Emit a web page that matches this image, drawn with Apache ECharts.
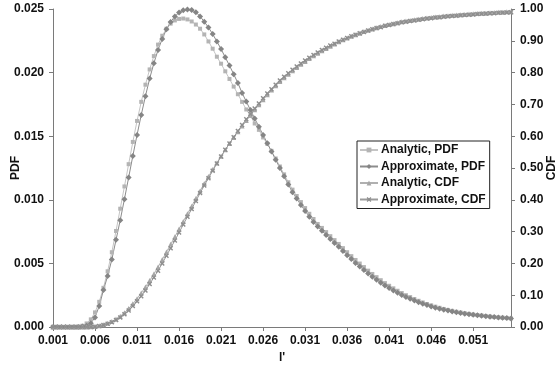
<!DOCTYPE html>
<html>
<head>
<meta charset="utf-8">
<script src="https://cdn.jsdelivr.net/npm/echarts@6/dist/echarts.min.js"></script>
<style>
  html, body { margin: 0; padding: 0; background: #fff; }
  #chart { width: 558px; height: 374px; }
</style>
</head>
<body>
<div id="chart"></div>
<script>
// l' values, one point every 0.0005
const lValues = [
  0.0010, 0.0015, 0.0020, 0.0025, 0.0030, 0.0035, 0.0040, 0.0045, 0.0050, 0.0055,
  0.0060, 0.0065, 0.0070, 0.0075, 0.0080, 0.0085, 0.0090, 0.0095, 0.0100, 0.0105,
  0.0110, 0.0115, 0.0120, 0.0125, 0.0130, 0.0135, 0.0140, 0.0145, 0.0150, 0.0155,
  0.0160, 0.0165, 0.0170, 0.0175, 0.0180, 0.0185, 0.0190, 0.0195, 0.0200, 0.0205,
  0.0210, 0.0215, 0.0220, 0.0225, 0.0230, 0.0235, 0.0240, 0.0245, 0.0250, 0.0255,
  0.0260, 0.0265, 0.0270, 0.0275, 0.0280, 0.0285, 0.0290, 0.0295, 0.0300, 0.0305,
  0.0310, 0.0315, 0.0320, 0.0325, 0.0330, 0.0335, 0.0340, 0.0345, 0.0350, 0.0355,
  0.0360, 0.0365, 0.0370, 0.0375, 0.0380, 0.0385, 0.0390, 0.0395, 0.0400, 0.0405,
  0.0410, 0.0415, 0.0420, 0.0425, 0.0430, 0.0435, 0.0440, 0.0445, 0.0450, 0.0455,
  0.0460, 0.0465, 0.0470, 0.0475, 0.0480, 0.0485, 0.0490, 0.0495, 0.0500, 0.0505,
  0.0510, 0.0515, 0.0520, 0.0525, 0.0530, 0.0535, 0.0540, 0.0545, 0.0550, 0.0555
];

const analyticPdf = [
  0, 0, 0, 0, 0, 0, 0.00003, 0.00010, 0.00028, 0.00060,
  0.00115, 0.00198, 0.00308, 0.00438, 0.00588, 0.00755, 0.00930, 0.01105, 0.01280, 0.01455,
  0.01620, 0.01770, 0.01905, 0.02025, 0.02130, 0.02220, 0.02290, 0.02345, 0.02385, 0.02410,
  0.02422, 0.02425, 0.02418, 0.02402, 0.02378, 0.02345, 0.02300, 0.02245, 0.02188, 0.02125,
  0.02070, 0.02010, 0.01950, 0.01890, 0.01830, 0.01770, 0.01710, 0.01660, 0.01600, 0.01550,
  0.01490, 0.01440, 0.01385, 0.01325, 0.01262, 0.01200, 0.01138, 0.01080, 0.01030, 0.00982,
  0.00935, 0.00890, 0.00849, 0.00810, 0.00779, 0.00746, 0.00714, 0.00683, 0.00653, 0.00620,
  0.00588, 0.00557, 0.00527, 0.00499, 0.00471, 0.00443, 0.00417, 0.00392, 0.00368, 0.00345,
  0.00324, 0.00304, 0.00285, 0.00267, 0.00250, 0.00235, 0.00220, 0.00206, 0.00193, 0.00181,
  0.00170, 0.00160, 0.00151, 0.00142, 0.00134, 0.00127, 0.00120, 0.00114, 0.00108, 0.00103,
  0.00098, 0.00094, 0.00090, 0.00086, 0.00082, 0.00079, 0.00076, 0.00073, 0.00070, 0.00067
];

const approxPdf = [
  0, 0, 0, 0, 0, 0, 0, 0.00003, 0.00010, 0.00030,
  0.00075, 0.00165, 0.00290, 0.00400, 0.00530, 0.00685, 0.00840, 0.01005, 0.01175, 0.01345,
  0.01510, 0.01667, 0.01815, 0.01953, 0.02073, 0.02178, 0.02265, 0.02340, 0.02398, 0.02442,
  0.02472, 0.02490, 0.02497, 0.02492, 0.02475, 0.02442, 0.02400, 0.02355, 0.02303, 0.02245,
  0.02185, 0.02120, 0.02055, 0.01988, 0.01918, 0.01840, 0.01772, 0.01705, 0.01640, 0.01575,
  0.01510, 0.01445, 0.01380, 0.01315, 0.01250, 0.01185, 0.01120, 0.01060, 0.01010, 0.00960,
  0.00912, 0.00867, 0.00826, 0.00790, 0.00756, 0.00723, 0.00691, 0.00660, 0.00630, 0.00597,
  0.00565, 0.00534, 0.00504, 0.00476, 0.00448, 0.00421, 0.00395, 0.00371, 0.00348, 0.00326,
  0.00306, 0.00287, 0.00269, 0.00252, 0.00236, 0.00222, 0.00208, 0.00195, 0.00183, 0.00172,
  0.00162, 0.00152, 0.00144, 0.00136, 0.00129, 0.00122, 0.00116, 0.00110, 0.00105, 0.00100,
  0.00096, 0.00092, 0.00088, 0.00085, 0.00081, 0.00078, 0.00075, 0.00072, 0.00070, 0.00067
];

const analyticCdf = [
  0, 0, 0, 0, 0, 0, 0, 0, 0, 0.001,
  0.002, 0.004, 0.007, 0.012, 0.017, 0.025, 0.034, 0.045, 0.058, 0.073,
  0.089, 0.107, 0.126, 0.146, 0.167, 0.189, 0.212, 0.236, 0.260, 0.284,
  0.308, 0.332, 0.356, 0.380, 0.404, 0.428, 0.451, 0.473, 0.495, 0.516,
  0.537, 0.557, 0.577, 0.596, 0.614, 0.632, 0.649, 0.666, 0.683, 0.699,
  0.715, 0.730, 0.745, 0.759, 0.772, 0.784, 0.795, 0.806, 0.816, 0.826,
  0.835, 0.844, 0.853, 0.861, 0.869, 0.876, 0.883, 0.890, 0.897, 0.903,
  0.909, 0.914, 0.919, 0.924, 0.929, 0.933, 0.937, 0.941, 0.945, 0.948,
  0.951, 0.954, 0.957, 0.960, 0.962, 0.964, 0.966, 0.968, 0.970, 0.972,
  0.973, 0.975, 0.976, 0.978, 0.979, 0.980, 0.981, 0.982, 0.983, 0.984,
  0.985, 0.986, 0.987, 0.987, 0.988, 0.989, 0.990, 0.990, 0.991, 0.991
];

const approxCdf = [
  0, 0, 0, 0, 0, 0, 0, 0, 0, 0,
  0.001, 0.003, 0.006, 0.010, 0.015, 0.022, 0.030, 0.040, 0.052, 0.066,
  0.081, 0.097, 0.115, 0.135, 0.156, 0.177, 0.200, 0.224, 0.248, 0.272,
  0.297, 0.322, 0.347, 0.371, 0.396, 0.421, 0.445, 0.468, 0.491, 0.514,
  0.536, 0.557, 0.577, 0.597, 0.616, 0.635, 0.653, 0.670, 0.687, 0.703,
  0.719, 0.734, 0.748, 0.762, 0.775, 0.787, 0.798, 0.809, 0.819, 0.829,
  0.838, 0.847, 0.855, 0.863, 0.871, 0.878, 0.885, 0.891, 0.898, 0.903,
  0.909, 0.914, 0.919, 0.924, 0.928, 0.932, 0.936, 0.940, 0.943, 0.947,
  0.950, 0.953, 0.955, 0.958, 0.960, 0.962, 0.964, 0.966, 0.968, 0.970,
  0.971, 0.973, 0.974, 0.976, 0.977, 0.978, 0.979, 0.980, 0.981, 0.982,
  0.983, 0.984, 0.985, 0.986, 0.987, 0.987, 0.988, 0.989, 0.989, 0.990
];

const seriesNames = ['Analytic, PDF', 'Approximate, PDF', 'Analytic, CDF', 'Approximate, CDF'];

const FONT = "'Liberation Sans', Arial, sans-serif";
const crossPath = 'path://M0,2L2,0L5,3L8,0L10,2L7,5L10,8L8,10L5,7L2,10L0,8L3,5Z';

const pairs = (vals) => lValues.map((x, i) => [x, vals[i]]);

const axisText = { color: '#111', fontFamily: FONT, fontWeight: 'bold', fontSize: 12 };
const axisLine = { show: true, lineStyle: { color: '#7a7a7a', width: 1 } };
const axisTick = { show: true, length: 4, lineStyle: { color: '#7a7a7a' } };

const makeLine = (name, vals, yIdx, symbol, size, lineColor, markColor) => ({
  name: name,
  type: 'line',
  yAxisIndex: yIdx,
  data: pairs(vals),
  symbol: symbol,
  symbolSize: size,
  showSymbol: true,
  animation: false,
  lineStyle: { color: lineColor, width: 1 },
  itemStyle: { color: markColor, borderWidth: 0 }
});

const chart = echarts.init(document.getElementById('chart'));
chart.setOption({
  backgroundColor: '#fff',
  animation: false,
  grid: { left: 53, right: 47, top: 9, bottom: 47, outerBoundsMode: 'none', containLabel: false },
  legend: {
    data: seriesNames,
    orient: 'vertical',
    left: 357,
    top: 141,
    itemWidth: 18,
    itemHeight: 6,
    itemGap: 2.5,
    padding: [2, 4, 2, 2],
    borderColor: '#222',
    borderWidth: 1,
    backgroundColor: '#fff',
    textStyle: Object.assign({}, axisText, { lineHeight: 14, padding: [0, 0, 0, -2] })
  },
  xAxis: {
    type: 'value',
    min: 0.001,
    max: 0.0555,
    interval: 0.005,
    name: "l'",
    nameLocation: 'middle',
    nameGap: 25,
    nameMoveOverlap: false,
    nameTextStyle: axisText,
    axisLine: axisLine,
    axisTick: axisTick,
    splitLine: { show: false },
    axisLabel: Object.assign({}, axisText, {
      margin: 8,
      showMaxLabel: false,
      formatter: (v) => v.toFixed(3)
    })
  },
  yAxis: [
    {
      type: 'value',
      min: 0,
      max: 0.025,
      interval: 0.005,
      name: 'PDF',
      nameLocation: 'middle',
      nameGap: 31,
      nameMoveOverlap: false,
      nameTextStyle: axisText,
      axisLine: axisLine,
      axisTick: axisTick,
      splitLine: { show: false },
      axisLabel: Object.assign({}, axisText, { margin: 9, formatter: (v) => v.toFixed(3) })
    },
    {
      type: 'value',
      min: 0,
      max: 1,
      interval: 0.1,
      name: 'CDF',
      nameLocation: 'middle',
      nameGap: 35,
      nameMoveOverlap: false,
      nameTextStyle: axisText,
      axisLine: axisLine,
      axisTick: axisTick,
      splitLine: { show: false },
      axisLabel: Object.assign({}, axisText, { margin: 9, formatter: (v) => v.toFixed(2) })
    }
  ],
  series: [
    makeLine(seriesNames[0], analyticPdf, 0, 'rect', 4, '#c4c4c4', '#b4b4b4'),
    makeLine(seriesNames[1], approxPdf, 0, 'diamond', 6, '#8c8c8c', '#858585'),
    makeLine(seriesNames[2], analyticCdf, 1, 'triangle', 5, '#b0b0b0', '#a6a6a6'),
    makeLine(seriesNames[3], approxCdf, 1, crossPath, 5, '#9a9a9a', '#8e8e8e')
  ]
});
</script>
</body>
</html>
